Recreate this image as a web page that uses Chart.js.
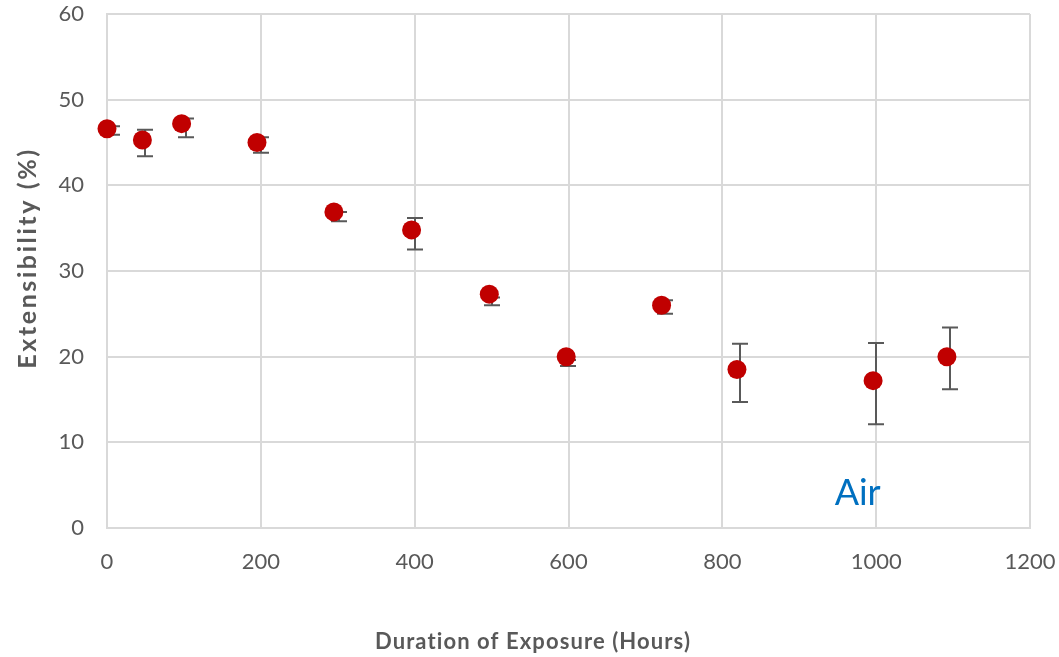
<!DOCTYPE html>
<html>
<head>
<meta charset="utf-8">
<script src="https://cdn.jsdelivr.net/npm/chart.js@4"></script>
<style>
  html, body { margin: 0; padding: 0; background: #fff; }
  #wrap { width: 1059px; height: 657px; }
</style>
</head>
<body>
<div id="wrap"><canvas id="chart" width="1059" height="657"></canvas></div>
<script>
// duration of exposure (hours) and mean extensibility (%)
const hours = [0, 46, 97, 195, 295, 396, 497, 597, 721, 819, 996, 1092];
const extensibility = [46.6, 45.3, 47.2, 45.0, 36.9, 34.8, 27.3, 20.0, 26.0, 18.5, 17.2, 20.0];

// error bars (they sit a touch to the right of the dots in the original)
const errHours = [6, 50, 103, 200, 302, 400, 500, 599, 726, 823, 1000, 1096];
const errLow = [45.9, 43.4, 45.6, 43.8, 35.8, 32.5, 26.0, 18.9, 25.0, 14.7, 12.1, 16.2];
const errHigh = [46.9, 46.5, 47.8, 45.6, 36.9, 36.2, 26.9, 19.6, 26.6, 21.5, 21.6, 23.4];

const xTitle = 'Duration of Exposure (Hours)';
const yTitle = 'Extensibility (%)';
const noteText = 'Air';
const noteAt = { x: 946, y: 2.7 };

const gray = '#595959';
const gridGray = '#d9d9d9';

const points = hours.map((h, i) => ({ x: h, y: extensibility[i] }));

const errorBars = {
  id: 'errorBars',
  beforeDatasetsDraw(chart) {
    const { ctx, scales: { x, y } } = chart;
    ctx.save();
    ctx.strokeStyle = gray;
    ctx.lineWidth = 2;
    errHours.forEach((h, i) => {
      const px = Math.round(x.getPixelForValue(h));
      const top = y.getPixelForValue(errHigh[i]);
      const bot = y.getPixelForValue(errLow[i]);
      ctx.beginPath();
      ctx.moveTo(px, top);
      ctx.lineTo(px, bot);
      ctx.moveTo(px - 8, top);
      ctx.lineTo(px + 8, top);
      ctx.moveTo(px - 8, bot);
      ctx.lineTo(px + 8, bot);
      ctx.stroke();
    });
    ctx.restore();
  }
};

const labels = {
  id: 'labels',
  afterDraw(chart) {
    const { ctx, scales: { x, y } } = chart;
    ctx.save();
    ctx.fillStyle = gray;
    ctx.textAlign = 'center';
    ctx.textBaseline = 'middle';
    ctx.font = 'bold 22px Lato';
    ctx.letterSpacing = '1.1px';
    ctx.fillText(xTitle, 533, 642);
    ctx.font = 'bold 25px Lato';
    ctx.letterSpacing = '2.6px';
    ctx.translate(28, 258);
    ctx.rotate(-Math.PI / 2);
    ctx.fillText(yTitle, 0, 0);
    ctx.restore();

    ctx.save();
    ctx.fillStyle = '#0070c0';
    ctx.font = '36px Lato';
    ctx.textAlign = 'left';
    ctx.textBaseline = 'alphabetic';
    ctx.fillText(noteText, x.getPixelForValue(noteAt.x), y.getPixelForValue(noteAt.y));
    ctx.restore();
  }
};

// keep the plot box where the original has it, regardless of label overhang
function noPad(scale) {
  scale.paddingTop = 0;
  scale.paddingBottom = 0;
  scale.paddingLeft = 0;
  scale.paddingRight = 0;
}

new Chart(document.getElementById('chart'), {
  type: 'scatter',
  data: {
    datasets: [{
      data: points,
      backgroundColor: '#c00000',
      borderColor: '#c00000',
      pointRadius: 9.5,
      pointHoverRadius: 9.5,
      borderWidth: 0,
      clip: false
    }]
  },
  options: {
    responsive: false,
    animation: false,
    events: [],
    layout: { padding: { top: 14, right: 29, left: 0, bottom: 0 } },
    plugins: {
      legend: { display: false },
      tooltip: { enabled: false }
    },
    scales: {
      x: {
        type: 'linear',
        min: 0,
        max: 1200,
        afterFit: (scale) => { scale.height = 129; noPad(scale); },
        ticks: {
          stepSize: 200,
          color: gray,
          font: { family: 'Lato', size: 22 },
          padding: 21,
          callback: (v) => String(v)
        },
        grid: { color: gridGray, lineWidth: 2, drawTicks: false },
        border: { color: gridGray, width: 2 }
      },
      y: {
        min: 0,
        max: 60,
        afterFit: (scale) => { scale.width = 107; noPad(scale); },
        ticks: {
          stepSize: 10,
          color: gray,
          font: { family: 'Lato', size: 22 },
          padding: 23,
          callback: (v) => String(v)
        },
        grid: { color: gridGray, lineWidth: 2, drawTicks: false },
        border: { color: gridGray, width: 2 }
      }
    }
  },
  plugins: [errorBars, labels]
});
</script>
</body>
</html>
